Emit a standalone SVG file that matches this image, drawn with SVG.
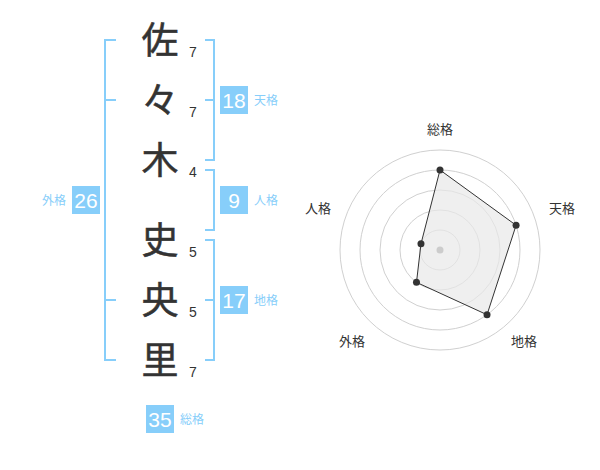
<svg xmlns="http://www.w3.org/2000/svg" width="600" height="470" viewBox="0 0 600 470">
<style>
.kanji{font-family:"Noto Sans CJK JP","Noto Sans",sans-serif;font-size:37px;fill:#333;stroke:#333;stroke-width:0.5;text-anchor:middle}
.num{font-family:"Liberation Sans","Noto Sans",sans-serif;font-size:14px;fill:#333;text-anchor:middle}
.br{fill:none;stroke:#87cefa;stroke-width:2}
.box{fill:#87cefa}
.bnum{font-family:"Liberation Sans","Noto Sans",sans-serif;font-size:21px;fill:#fff;text-anchor:middle}
.lab{font-family:"Noto Sans CJK JP",sans-serif;font-size:12px;fill:#87cefa}
.ring{fill:none;stroke:#d0d0d0;stroke-width:1}
.rlab{font-family:"Noto Sans CJK JP",sans-serif;font-size:13px;fill:#333;text-anchor:middle}
.pt{fill:#333}
</style>
<rect width="600" height="470" fill="#fff"/>
<g id="name">
<g id="c1"><text class="kanji" x="160" y="54">佐</text><text class="num" x="193" y="57">7</text></g>
<g id="c2"><text class="kanji" x="160" y="114">々</text><text class="num" x="193" y="117">7</text></g>
<g id="c3"><text class="kanji" x="160" y="174">木</text><text class="num" x="193" y="177">4</text></g>
<g id="c4"><text class="kanji" x="160" y="254">史</text><text class="num" x="193" y="257">5</text></g>
<g id="c5"><text class="kanji" x="160" y="314">央</text><text class="num" x="193" y="317">5</text></g>
<g id="c6"><text class="kanji" x="160" y="374">里</text><text class="num" x="193" y="377">7</text></g>
</g>
<g id="connectors">
<path class="br" d="M116 40H105V360H116M105 100H116M105 300H116"/>
<path class="br" d="M205 40H214V160H205M214 100H205"/>
<path class="br" d="M205 170H214V230H205"/>
<path class="br" d="M205 240H214V360H205M214 300H205"/>
</g>
<g id="tenkaku"><rect class="box" x="220" y="86" width="28" height="28"/><text class="bnum" x="234" y="107.5">18</text><text class="lab" x="254" y="104.5">天格</text></g>
<g id="jinkaku"><rect class="box" x="220" y="186" width="28" height="28"/><text class="bnum" x="234" y="207.5">9</text><text class="lab" x="254" y="204.5">人格</text></g>
<g id="chikaku"><rect class="box" x="220" y="286" width="28" height="28"/><text class="bnum" x="234" y="307.5">17</text><text class="lab" x="254" y="304.5">地格</text></g>
<g id="gaikaku"><rect class="box" x="72" y="186" width="28" height="28"/><text class="bnum" x="86" y="207.5">26</text><text class="lab" x="66" y="204.5" text-anchor="end">外格</text></g>
<g id="soukaku"><rect class="box" x="146" y="405" width="28" height="28"/><text class="bnum" x="160" y="426.5">35</text><text class="lab" x="180" y="423.5">総格</text></g>
<g id="radar">
<circle class="ring" cx="440" cy="250" r="20"/>
<circle class="ring" cx="440" cy="250" r="40"/>
<circle class="ring" cx="440" cy="250" r="60"/>
<circle class="ring" cx="440" cy="250" r="80"/>
<circle class="ring" cx="440" cy="250" r="100"/>
<polygon points="440,170 516.08,225.28 487.02,314.72 416.49,282.36 420.98,243.82" fill="#e8e8e8" fill-opacity="0.7" stroke="#333" stroke-width="1"/>
<circle cx="440" cy="250" r="3.5" fill="#ccc"/>
<circle class="pt" cx="440" cy="170" r="3.5"/>
<circle class="pt" cx="516.08" cy="225.28" r="3.5"/>
<circle class="pt" cx="487.02" cy="314.72" r="3.5"/>
<circle class="pt" cx="416.49" cy="282.36" r="3.5"/>
<circle class="pt" cx="420.98" cy="243.82" r="3.5"/>
<text class="rlab" x="440" y="134">総格</text>
<text class="rlab" x="562" y="213">天格</text>
<text class="rlab" x="524" y="346">地格</text>
<text class="rlab" x="352" y="346">外格</text>
<text class="rlab" x="318" y="213">人格</text>
</g>
</svg>
